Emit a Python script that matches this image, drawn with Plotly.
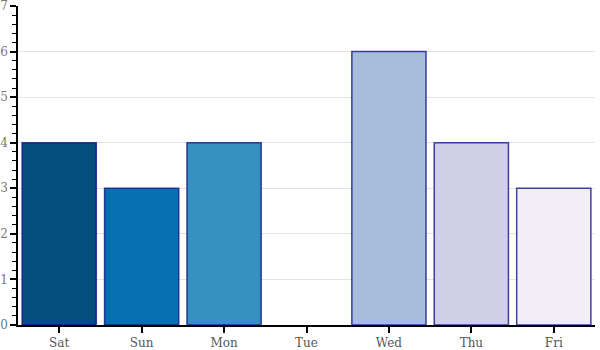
import plotly.graph_objects as go

days = ["Sat", "Sun", "Mon", "Tue", "Wed", "Thu", "Fri"]
counts = [4, 3, 4, 0, 6, 4, 3]
colors = ["#034e7b", "#0570b0", "#3690c0", "#74a9cf", "#a6bddb", "#d0d1e6", "#f1eef6"]
y_ticks = [0, 1, 2, 3, 4, 5, 6, 7]

# empty bars get no outline so they stay invisible
outline_widths = [1.5 if c > 0 else 0 for c in counts]

fig = go.Figure(
    go.Bar(
        x=days,
        y=counts,
        marker=dict(color=colors, line=dict(color="rgba(20,20,140,0.8)", width=outline_widths)),
    )
)

fig.update_layout(
    width=600,
    height=350,
    margin=dict(l=18, r=5, t=6, b=25, autoexpand=False),
    paper_bgcolor="white",
    plot_bgcolor="white",
    bargap=0.1,
    showlegend=False,
    font=dict(family="DejaVu Serif", size=12, color="#666"),
)

fig.update_xaxes(
    automargin=False,
    showline=True,
    linecolor="black",
    linewidth=1.5,
    ticks="outside",
    ticklen=6,
    tickcolor="black",
    tickwidth=1.5,
    showgrid=False,
    tickfont=dict(color="#555", size=12),
)

fig.update_yaxes(
    automargin=False,
    range=[0, 7],
    tickmode="array",
    tickvals=y_ticks,
    ticktext=[str(v) for v in y_ticks],
    ticklabeloverflow="allow",
    showline=True,
    linecolor="black",
    linewidth=1.5,
    ticks="outside",
    ticklen=6,
    tickcolor="black",
    tickwidth=1.5,
    showgrid=True,
    gridcolor="#e3e3e3",
    gridwidth=1,
    zeroline=False,
    tickfont=dict(color="#777", size=12),
    minor=dict(ticks="outside", ticklen=4, tickcolor="black", tickwidth=1, dtick=0.2, showgrid=False),
)

fig.write_html("out.html")
